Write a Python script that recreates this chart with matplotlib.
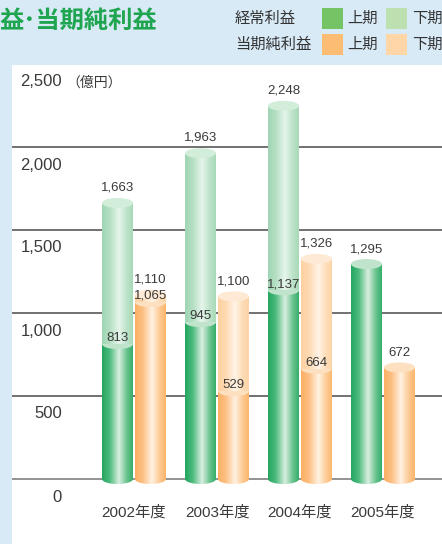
import matplotlib
matplotlib.use("Agg")
import matplotlib.pyplot as plt
import numpy as np
from matplotlib.colors import LinearSegmentedColormap
from matplotlib.patches import Ellipse, Rectangle
from matplotlib.path import Path

plt.rcParams['font.family'] = ['Noto Sans CJK JP', 'DejaVu Sans']
NUM_FONT = ['Liberation Sans', 'Noto Sans CJK JP']

years = ['2002年度', '2003年度', '2004年度', '2005年度']
keijo_h1 = [813, 945, 1137, 1295]      # 経常利益 上期
keijo_full = [1663, 1963, 2248, None]  # 経常利益 通期
junri_h1 = [1065, 529, 664, 672]       # 当期純利益 上期
junri_full = [1110, 1100, 1326, None]  # 当期純利益 通期
yticks = [0, 500, 1000, 1500, 2000, 2500]

# pixel geometry of the reference
W_PX, H_PX = 442, 544
Y0_PX = 479            # pixel row of value 0
K = 415 / 2500         # pixels per unit
X0_PX, STEP = 134, 83  # centre of first group, group spacing
BW = 31 / 83           # bar width in group units
OFF = 16.5 / 83
CAP = 10 / K           # ellipse height in data units

def px2y(p):
    return (Y0_PX - p) / K

def px2x(p):
    return (p - X0_PX) / STEP

fig = plt.figure(figsize=(W_PX / 100, H_PX / 100), dpi=100)
fig.patch.set_facecolor('#d8eaf6')

# overlay in pixel coords for panel, title and legend
ov = fig.add_axes([0, 0, 1, 1])
ov.set_xlim(0, W_PX)
ov.set_ylim(H_PX, 0)
ov.axis('off')
ov.add_patch(Rectangle((12, 65), W_PX - 12, H_PX - 65, facecolor='white', edgecolor='none'))
ov.text(0, 21, '益･当期純利益', fontsize=17.5, fontweight='bold', color='#1fa54f', va='center', ha='left')

leg_rows = [('経常利益', '#74c365', '#bde0b1', 18), ('当期純利益', '#fdbc73', '#fed6a7', 44)]
for name, c1, c2, yc in leg_rows:
    ov.text(235, yc, name, fontsize=11, color='#333333', va='center', ha='left')
    ov.add_patch(Rectangle((322, yc - 10.5), 21, 21, facecolor=c1, edgecolor='none'))
    ov.text(347, yc, '上期', fontsize=11, color='#333333', va='center', ha='left')
    ov.add_patch(Rectangle((386, yc - 10.5), 21, 21, facecolor=c2, edgecolor='none'))
    ov.text(412, yc, '下期', fontsize=11, color='#333333', va='center', ha='left')

# main axes
ax = fig.add_axes([12 / W_PX, 0, (W_PX - 12) / W_PX, (H_PX - 60) / H_PX])
ax.patch.set_alpha(0)
xlim = (px2x(12), px2x(W_PX))
ylim = (px2y(H_PX), px2y(60))
ax.axis('off')

for v in yticks[1:-1]:
    ax.axhline(v, color='#4a4a4a', lw=1.1, zorder=1)
ax.axhline(0, color='#8a8a8a', lw=1.3, zorder=1)

for v in yticks:
    ax.text(px2x(62), v - 18 / K, f'{v:,}', fontsize=12, color='#3a3a3a', ha='right', va='center',
            family=NUM_FONT)
ax.text(px2x(66), 2500 - 19 / K, '（億円）', fontsize=10, color='#3a3a3a', ha='left', va='center')

cm_dg = LinearSegmentedColormap.from_list('dg', [(0, '#25a560'), (0.25, '#4dbb7d'), (0.55, '#d9efe0'), (0.8, '#6cc48f'), (1, '#36ae6c')])
cm_lg = LinearSegmentedColormap.from_list('lg', [(0, '#9fd6b3'), (0.25, '#b4dfc3'), (0.55, '#e6f5eb'), (0.8, '#bde3ca'), (1, '#a8d9b8')])
cm_or = LinearSegmentedColormap.from_list('or', [(0, '#fcb062'), (0.25, '#fdc085'), (0.55, '#fff2e2'), (0.8, '#fdca93'), (1, '#fcb56c')])
cm_lo = LinearSegmentedColormap.from_list('lo', [(0, '#fdd0a0'), (0.25, '#fedab2'), (0.55, '#fff4e8'), (0.8, '#fedcb6'), (1, '#fdd3a6')])
grad = np.linspace(0, 1, 200).reshape(1, -1)


def cylinder(xc, y0, y1, cmap, cap_color, bottom, z):
    x0, x1 = xc - BW / 2, xc + BW / 2
    if bottom:
        t = np.linspace(np.pi, 2 * np.pi, 60)
        pts = [(x0, y1), (x0, y0)] + list(zip(xc + BW / 2 * np.cos(t), y0 + CAP / 2 * np.sin(t))) + [(x1, y1), (x0, y1)]
    else:
        pts = [(x0, y1), (x0, y0), (x1, y0), (x1, y1), (x0, y1)]
    path = Path(pts)
    im = ax.imshow(grad, cmap=cmap, extent=[x0, x1, y0 - CAP / 2, y1], aspect='auto',
                   interpolation='bilinear', zorder=z)
    im.set_clip_path(path, ax.transData)
    ax.add_patch(Ellipse((xc, y1), BW, CAP, facecolor=cap_color, edgecolor='none', zorder=z + 0.1))


def label(x, v, dy):
    ax.annotate(f'{v:,}', (x, v), xytext=(0, dy), textcoords='offset points', ha='center',
                va='center', fontsize=9.5, color='#3a3a3a', zorder=10, family=NUM_FONT)


def stack(xc, h1, full, cm1, cap1, cm2, cap2, z):
    cylinder(xc, 0, h1, cm1, cap1, True, z)
    if full is None:
        label(xc, h1, 10.5)
        return
    cylinder(xc, h1, full, cm2, cap2, False, z + 1)
    label(xc, h1, 4.5)
    label(xc, full, 11)


for i, yr in enumerate(years):
    stack(i - OFF, keijo_h1[i], keijo_full[i], cm_dg, '#bfe4cb', cm_lg, '#d3eddb', 2)
    stack(i + OFF, junri_h1[i], junri_full[i], cm_or, '#fde0c0', cm_lo, '#fee9d4', 2)
    ax.text(i, px2y(512), yr, fontsize=11, color='#3a3a3a', ha='center', va='center', family=NUM_FONT)

ax.set_xlim(*xlim)
ax.set_ylim(*ylim)

fig.savefig('out.png', dpi=100, facecolor=fig.get_facecolor())
